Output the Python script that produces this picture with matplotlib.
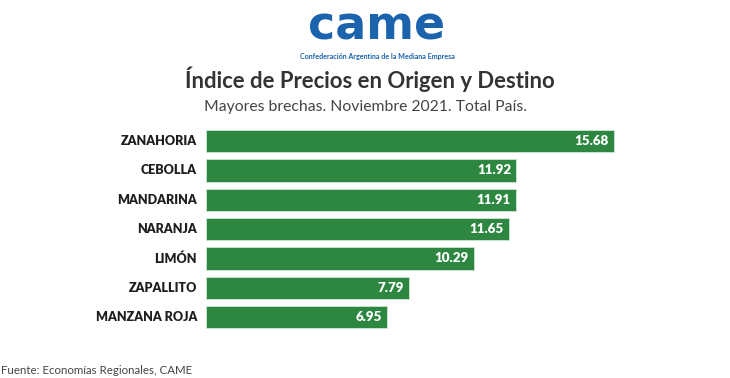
import matplotlib
matplotlib.use("Agg")
import matplotlib.pyplot as plt

categories = ["ZANAHORIA", "CEBOLLA", "MANDARINA", "NARANJA", "LIMÓN", "ZAPALLITO", "MANZANA ROJA"]
values = [15.68, 11.92, 11.91, 11.65, 10.29, 7.79, 6.95]

title = "Índice de Precios en Origen y Destino"
subtitle = "Mayores brechas. Noviembre 2021. Total País."
source = "Fuente: Economías Regionales, CAME"

W, H = 730, 378
fig = plt.figure(figsize=(W / 100, H / 100), dpi=100)
fig.patch.set_facecolor("white")

green = "#2e8741"
blue = "#1b63ad"
font = "Lato"

# axes geometry (pixels)
x0, px_per_unit = 206, 26.02
xmax = 20
ax_w = xmax * px_per_unit
step = 29.35
top_px = 141 - step / 2
ax_h = step * len(categories)
ax = fig.add_axes([x0 / W, 1 - (top_px + ax_h) / H, ax_w / W, ax_h / H])
ax.set_xlim(0, xmax)
ax.set_ylim(len(categories) - 0.5, -0.5)
ax.axis("off")

ypos = list(range(len(categories)))
ax.barh(ypos, values, height=0.76, color=green, edgecolor="#cfe6d3", linewidth=0.6)
for y, v, c in zip(ypos, values, categories):
    ax.text(v - 0.2, y, f"{v:.2f}", ha="right", va="center", color="white",
            fontsize=9.6, fontweight="heavy", family=font)
    ax.text(-0.35, y, c, ha="right", va="center", color="#1e1e1e",
            fontsize=9.0, fontweight="heavy", family=font)

# logo
fig.text(377 / W, 1 - 27 / H, "came", ha="center", va="center", color=blue,
         fontsize=33, fontweight="bold", family="DejaVu Sans")
fig.text(377 / W, 1 - 57 / H, "Confederación Argentina de la Mediana Empresa",
         ha="center", va="center", color=blue, fontsize=5.1, fontweight="bold", family=font)

fig.text(370 / W, 1 - 79 / H, title, ha="center", va="center", color="#333333",
         fontsize=15.9, fontweight="bold", family=font)
fig.text(365 / W, 1 - 107 / H, subtitle, ha="center", va="center", color="#444444",
         fontsize=11.3, family=font)
fig.text(1 / W, 1 - 370 / H, source, ha="left", va="center", color="#444444",
         fontsize=8.3, family=font)

fig.savefig("out.png", dpi=100, facecolor="white")
